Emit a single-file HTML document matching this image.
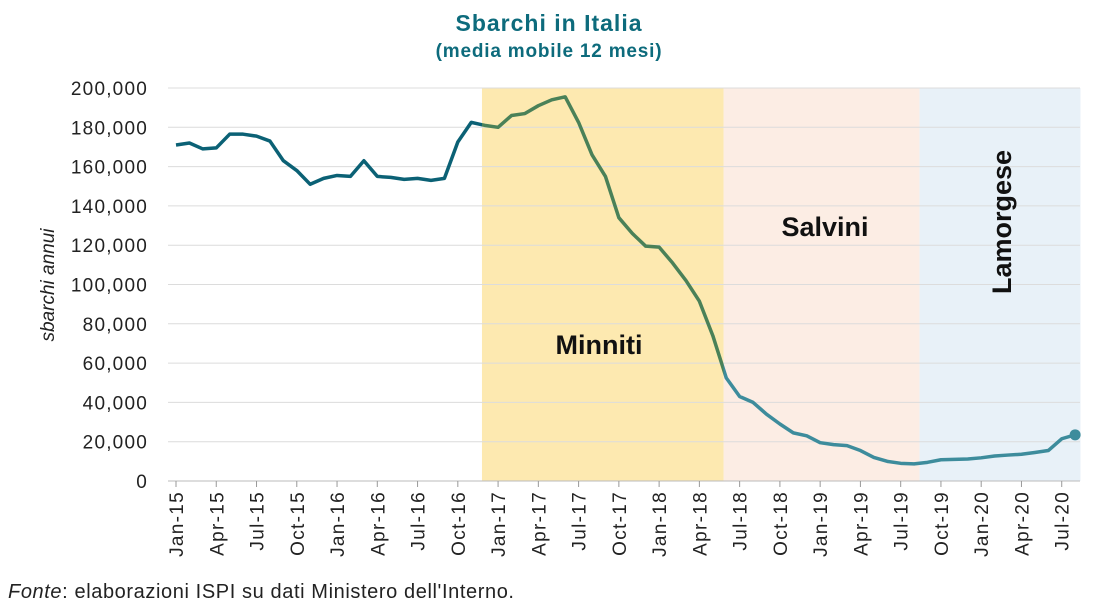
<!DOCTYPE html>
<html><head><meta charset="utf-8"><style>
body{margin:0;background:#fff;}
svg{display:block;font-family:"Liberation Sans",sans-serif;}
</style></head><body>
<svg id="chart" width="1098" height="608">
<defs>
<clipPath id="c1"><rect id="c1r" x="0" y="0" width="0" height="608"/></clipPath>
<clipPath id="c2"><rect id="c2r" x="0" y="0" width="0" height="608"/></clipPath>
<clipPath id="c3"><rect id="c3r" x="0" y="0" width="0" height="608"/></clipPath>
</defs>
<g id="bands"></g>
<g id="grid"></g>
<g id="yt"></g>
<g id="xt"></g>
<g id="lines"></g>
<text x="549" y="31" text-anchor="middle" font-size="23" font-weight="bold" fill="#0d6b7c" letter-spacing="1">Sbarchi in Italia</text>
<text x="549" y="57" text-anchor="middle" font-size="19" font-weight="bold" fill="#0d6b7c" letter-spacing="0.8">(media mobile 12 mesi)</text>
<text transform="translate(54,285) rotate(-90)" text-anchor="middle" font-size="19" font-style="italic" fill="#222">sbarchi annui</text>
<text x="8" y="598" font-size="20" fill="#222" letter-spacing="0.6"><tspan font-style="italic">Fonte</tspan>: elaborazioni ISPI su dati Ministero dell'Interno.</text>
<text x="599" y="354" text-anchor="middle" font-size="27" font-weight="bold" fill="#111">Minniti</text>
<text x="825" y="236" text-anchor="middle" font-size="27" font-weight="bold" fill="#111">Salvini</text>
<text transform="translate(1011,222) rotate(-90)" text-anchor="middle" font-size="27" font-weight="bold" fill="#111">Lamorgese</text>
</svg>
<script>
const values=[171000,172000,169000,169500,176500,176500,175500,173000,163000,158000,151000,154000,
155500,155000,163000,155000,154500,153500,154000,153000,154000,172500,182500,181000,
180000,186000,187000,191000,194000,195500,182500,166000,155000,134000,126000,119500,
119000,111000,102000,91500,74000,52500,43000,40000,34000,29000,24500,23000,
19500,18500,18000,15500,12000,10000,9000,8700,9500,10800,11000,11200,
11800,12700,13200,13600,14500,15500,21500,23500];
const tickLabels=["Jan-15","Apr-15","Jul-15","Oct-15","Jan-16","Apr-16","Jul-16","Oct-16","Jan-17","Apr-17","Jul-17","Oct-17","Jan-18","Apr-18","Jul-18","Oct-18","Jan-19","Apr-19","Jul-19","Oct-19","Jan-20","Apr-20","Jul-20"];
const yTicks=[0,20000,40000,60000,80000,100000,120000,140000,160000,180000,200000];
const periodStarts=[22.8,40.8,55.4];
const periodEnd=67.4;
const NS="http://www.w3.org/2000/svg";
const X=i=>176+i*13.42;
const Y=v=>481-v/200000*393;
function mk(t,a,p){const e=document.createElementNS(NS,t);for(const k in a)e.setAttribute(k,a[k]);p.appendChild(e);return e;}
const bandCols=["#fde9b0","#fcede4","#e8f1f8"];
const bandNames=["band-minniti","band-salvini","band-lamorgese"];
const bands=document.getElementById('bands');
for(let i=0;i<3;i++){
 const x0=X(periodStarts[i]),x1=i<2?X(periodStarts[i+1]):X(periodEnd);
 const r=mk('rect',{x:x0,y:88,width:x1-x0,height:393,fill:bandCols[i]},bands);
 
 
}
const grid=document.getElementById('grid'),yt=document.getElementById('yt');
yTicks.forEach(v=>{
 const l=mk('line',{x1:168,x2:1080,y1:Y(v),y2:Y(v),stroke:v===0?'#bbb':'#dcdcdc','stroke-width':1},grid);
 
 
 const t=mk('text',{x:148,y:Y(v)+7,'text-anchor':'end','font-size':19,'letter-spacing':1.2,fill:'#222'},yt);
 t.textContent=v.toLocaleString('en-US');
 
 
});
const xt=document.getElementById('xt');
tickLabels.forEach((s,k)=>{
 const x=X(k*3);
 mk('line',{x1:x,x2:x,y1:481,y2:487,stroke:'#999'},xt);
 const t=mk('text',{transform:`translate(${x+7},491) rotate(-90)`,'text-anchor':'end','font-size':19,'letter-spacing':1.3,fill:'#222'},xt);
 t.textContent=s;
 
 
});
document.getElementById('c1r').setAttribute('width',X(periodStarts[0]));
const c2=document.getElementById('c2r');c2.setAttribute('x',X(periodStarts[0]));c2.setAttribute('width',X(periodStarts[1])-X(periodStarts[0]));
const c3=document.getElementById('c3r');c3.setAttribute('x',X(periodStarts[1]));c3.setAttribute('width',1098);
const pts=values.map((v,i)=>X(i)+','+Y(v)).join(' ');
const lines=document.getElementById('lines');
[['c1','#0b6175'],['c2','#4a8158'],['c3','#3d8c9c']].forEach(([c,col],i)=>{
 const p=mk('polyline',{points:pts,fill:'none',stroke:col,'stroke-width':3.5,'stroke-linejoin':'round','clip-path':`url(#${c})`},lines);
 
 
});
const last=values.length-1;
const d=mk('circle',{cx:X(last),cy:Y(values[last]),r:5.5,fill:'#3d8c9c'},lines);


</script>
</body></html>
